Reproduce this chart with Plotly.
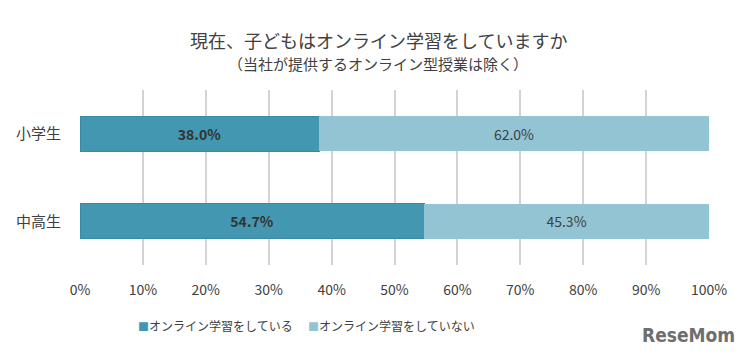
import plotly.graph_objects as go

categories = ["小学生", "中高生"]
doing = [38.0, 54.7]
not_doing = [62.0, 45.3]
series_names = ["オンライン学習をしている", "オンライン学習をしていない"]
tick_vals = [0, 10, 20, 30, 40, 50, 60, 70, 80, 90, 100]
tick_text = [f"{v}%" for v in tick_vals]
title_text = "現在、子どもはオンライン学習をしていますか"
subtitle_text = "（当社が提供するオンライン型授業は除く）"
colors = ["#4397B0", "#93C4D4"]

FONT = "Noto Sans CJK JP"
TXT = "#404040"

fig = go.Figure()
fig.add_trace(go.Bar(
    y=categories, x=doing, orientation="h", name=series_names[0],
    marker=dict(color=colors[0], line=dict(color="#3A8AA2", width=1)),
    text=[f"<b>{v:.1f}%</b>" for v in doing], textposition="inside",
    insidetextanchor="middle", textfont=dict(color="#333333", size=14, family=FONT),
))
fig.add_trace(go.Bar(
    y=categories, x=not_doing, orientation="h", name=series_names[1],
    marker=dict(color=colors[1], line=dict(width=0)),
    text=[f"{v:.1f}%" for v in not_doing], textposition="inside",
    insidetextanchor="middle", textfont=dict(color=TXT, size=14, family=FONT),
))

fig.update_layout(
    width=752, height=357,
    barmode="stack", bargap=0.6,
    plot_bgcolor="white", paper_bgcolor="white",
    margin=dict(l=80, r=43, t=90, b=92, autoexpand=False),
    font=dict(family=FONT, color=TXT),
    showlegend=False,
    xaxis=dict(
        range=[0, 100], tickvals=tick_vals, ticktext=tick_text,
        showgrid=True, gridcolor="#D3D3D3", gridwidth=2,
        zeroline=False, showline=False, automargin=False,
        ticks="outside", ticklen=12, tickcolor="rgba(0,0,0,0)",
        tickfont=dict(size=14, color=TXT, family=FONT),
        fixedrange=True,
    ),
    yaxis=dict(
        autorange="reversed", showgrid=False, zeroline=False, automargin=False,
        ticks="outside", ticklen=15, tickcolor="rgba(0,0,0,0)",
        tickfont=dict(size=15, color=TXT, family=FONT),
    ),
)

# Title and subtitle
fig.add_annotation(text=title_text, xref="paper", yref="paper", x=0.474, y=1.288,
                   xanchor="center", yanchor="middle", showarrow=False,
                   font=dict(size=18, color=TXT, family=FONT))
fig.add_annotation(text=subtitle_text, xref="paper", yref="paper", x=0.474, y=1.152,
                   xanchor="center", yanchor="middle", showarrow=False,
                   font=dict(size=15, color=TXT, family=FONT))

# Legend (colored squares + labels)
for xpos, name, col in zip([0.089, 0.359], series_names, colors):
    fig.add_annotation(
        text=f"<span style='color:{col};font-size:11px'>■</span>{name}", xref="paper", yref="paper",
        x=xpos, y=-0.343, xanchor="left", yanchor="middle", showarrow=False,
        font=dict(size=12, color=TXT, family=FONT),
    )

# Logo text
fig.add_annotation(
    text="<b>ReseMom</b>", xref="paper", yref="paper",
    x=1.045, y=-0.40, xanchor="right", yanchor="middle",
    showarrow=False,
    font=dict(size=19, color="#6e6e6e", family="Liberation Sans Narrow, DejaVu Sans Condensed, Roboto"),
)

fig.write_html("out.html", config={"displayModeBar": False})

# remove the browser's default body margin so the figure sits at the page origin
with open("out.html", "r", encoding="utf-8") as f:
    html = f.read()
html = html.replace("<head>", "<head><style>html,body{margin:0;padding:0;}</style>", 1)
with open("out.html", "w", encoding="utf-8") as f:
    f.write(html)
